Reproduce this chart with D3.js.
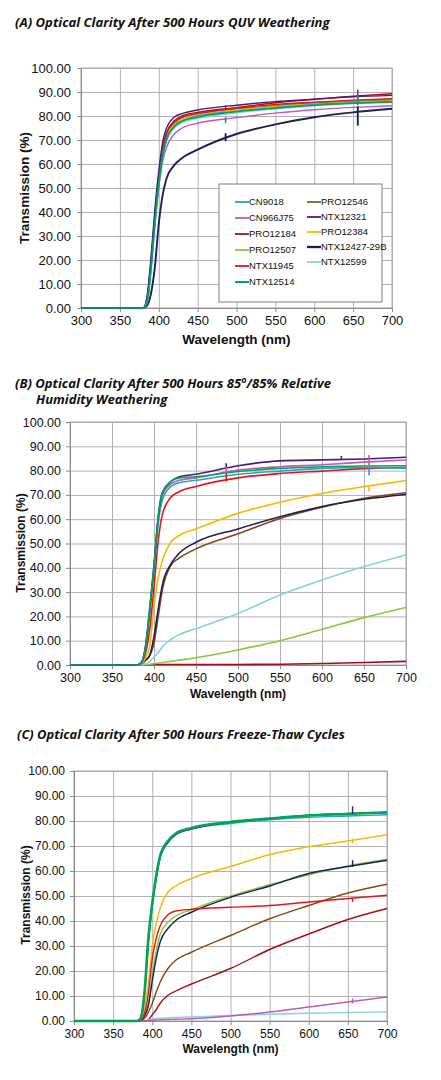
<!DOCTYPE html>
<meta charset="utf-8">
<style>
body { margin: 0; background: #fff; }
.grid line { stroke: #b0b0b0; stroke-width: 1; }
.grid path { display: none; }
.axis path, .axis line { stroke: #8c8c8c; }
.axis text { font-family: "Liberation Sans", Arial, sans-serif; fill: #111; }
.title { font-family: "Open Sans", sans-serif; font-weight: bold; font-style: italic; fill: #111; }
.atitle { font-family: "Liberation Sans", Arial, sans-serif; font-weight: bold; fill: #111; }
.legend text { font-family: "Liberation Sans Narrow", "Arial Narrow", "Liberation Sans", sans-serif; font-size: 9.5px; fill: #111; }
</style>
<svg width="441" height="1080"></svg>
<script src="https://d3js.org/d3.v7.min.js"></script>
<script>

var wavelengths = [300, 380, 385, 390, 395, 400, 405, 410, 420, 430, 450, 500, 550, 600, 650, 700];
var xTicks = [300, 350, 400, 450, 500, 550, 600, 650, 700];
var yTicks = [0, 10, 20, 30, 40, 50, 60, 70, 80, 90, 100];

var seriesNames = ["CN9018", "CN966J75", "PRO12184", "PRO12507", "NTX11945", "NTX12514",
                   "PRO12546", "NTX12321", "PRO12384", "NTX12427-29B", "NTX12599"];
var seriesColors = ["#1fa3d9", "#c05ab5", "#a50f15", "#8cc63e", "#e8141c", "#00a651",
                    "#6e6a2e", "#4b1b7e", "#f7b900", "#1b1f5c", "#8ccfe0"];
var legendCol1 = ["CN9018", "CN966J75", "PRO12184", "PRO12507", "NTX11945", "NTX12514"];
var legendCol2 = ["PRO12546", "NTX12321", "PRO12384", "NTX12427-29B", "NTX12599"];
var drawOrder = ["PRO12184", "PRO12507", "NTX12599", "CN966J75", "PRO12546", "NTX12427-29B",
                 "PRO12384", "NTX11945", "CN9018", "NTX12321", "NTX12514"];

// (A) QUV, one row per series in seriesNames order
var quvValues = [
  [0, 0, 2, 15, 34, 51, 63, 70, 76, 78, 80, 82, 83.5, 84.8, 85.5, 86],
  [0, 0, 3, 17, 35, 50, 61, 67, 72.5, 75, 77, 79.3, 81.2, 82.6, 83.6, 84.3],
  [0, 0, 4, 19, 39, 55, 67, 73, 78, 80, 81.5, 83.5, 85.5, 87, 88.3, 89.3],
  [0, 0, 3, 18, 37, 53, 65, 71.5, 76.5, 78.8, 80.5, 82.8, 84.3, 85.6, 86.4, 87],
  [0, 0, 4, 19, 38, 54, 66, 72.5, 77.5, 79.5, 81, 83.2, 84.8, 85.8, 86.6, 87.2],
  [0, 0, 3, 17, 36, 52, 64, 70.5, 75.5, 77.8, 79.5, 81.8, 83.3, 84.5, 85.3, 85.9],
  [0, 0, 3, 18, 37, 53, 65, 71.5, 77, 79, 80.8, 82.8, 84.2, 85.3, 86, 86.5],
  [0, 0, 5, 21, 41, 57, 69, 75, 79.5, 81, 82.5, 84.5, 86, 87, 88, 88.6],
  [0, 0, 3, 18, 37, 53, 65, 71.5, 76.5, 78.8, 80.5, 82.6, 84, 85, 85.8, 86.3],
  [0, 0, 1, 6, 17, 35, 47, 54, 59.5, 62.5, 66, 72.5, 76.5, 79.5, 81.5, 83],
  [0, 0, 2, 16, 35, 51, 63, 69.5, 75, 77.3, 79, 81.3, 83, 84.3, 85.2, 85.7]
];

// (B) 85°/85% RH
var humidityValues = [
  [0, 0, 1, 7, 22, 39, 58, 68, 73.5, 75, 76, 78.5, 79.8, 80.9, 81.3, 81],
  [0, 0, 1, 7, 22, 40, 60, 70, 74.5, 76, 77, 80.2, 81.6, 82.4, 83.5, 84.4],
  [0, 0, 0, 0.1, 0.1, 0.2, 0.2, 0.2, 0.2, 0.2, 0.2, 0.2, 0.3, 0.6, 1, 1.5],
  [0, 0, 0, 0.1, 0.2, 0.5, 0.8, 1, 1.5, 2, 3, 6.2, 10, 14.7, 19.5, 23.7],
  [0, 0, 1, 5, 15, 32, 51, 62, 69, 71.3, 73.5, 77, 78.8, 79.8, 80.8, 81.3],
  [0, 0, 1, 8, 24, 41, 61, 71, 75.5, 77, 77.5, 79.6, 80.9, 81.6, 81.9, 82],
  [0, 0, 0.5, 2, 4, 9, 20, 31, 41, 44, 47.8, 54, 60.3, 64.9, 68.6, 70.9],
  [0, 0, 1, 8, 23, 41, 61, 71, 75.5, 77.5, 78.5, 82, 84, 84.4, 84.8, 85.5],
  [0, 0, 0.5, 3, 8, 24, 36, 43, 50.5, 53.3, 56, 62.4, 67, 70.6, 73.4, 75.9],
  [0, 0, 0.5, 2, 4, 11.7, 23, 33, 41.5, 46, 50.5, 56, 61, 65.2, 68.2, 70.2],
  [0, 0, 0.2, 0.5, 1.5, 3.3, 5, 7.5, 10.5, 12.5, 15, 21.2, 28.8, 35, 40.5, 45.3]
];

// (C) freeze-thaw
var freezeValues = [
  [0, 0, 0.5, 10, 31, 46, 57, 65, 71.3, 74.5, 76.8, 79, 80.5, 81.5, 82, 82.5],
  [0, 0, 0, 0.1, 0.2, 0.3, 0.4, 0.5, 0.6, 0.7, 0.9, 2, 3.6, 5.6, 7.6, 9.6],
  [0, 0, 0, 0, 0.5, 2.5, 4.5, 7, 10.3, 12, 14.8, 21, 28.6, 34.8, 40.6, 45],
  [0, 0, 0.3, 2, 7, 18, 28, 34.5, 39.5, 42, 44.5, 50, 54.5, 58.5, 62, 64.7],
  [0, 0, 0.3, 3, 11, 25, 33, 38, 42.5, 44, 44.7, 45.5, 46.2, 47.6, 49, 50.3],
  [0, 0, 1, 11, 33, 47, 58, 66, 72, 75, 77.2, 79.6, 81, 82.2, 82.8, 83.5],
  [0, 0, 0.2, 1, 3.5, 7, 11.5, 15.5, 21, 24.3, 27.5, 34.2, 40.9, 46.2, 51.2, 54.7],
  [0, 0, 1, 11, 32, 46.5, 57.5, 65.5, 71.5, 74.5, 76.8, 79.5, 81, 82.3, 83, 83.3],
  [0, 0, 0.5, 5, 15, 30, 39, 45, 51.5, 54, 57, 61.8, 66.5, 69.7, 72, 74.5],
  [0, 0, 0.3, 2, 6, 16, 25, 31.5, 37, 40.2, 43.5, 49.5, 54, 59, 61.8, 64.3],
  [0, 0, 0, 0.2, 0.4, 0.8, 1, 1.1, 1.3, 1.4, 1.6, 2.2, 2.7, 3.1, 3.4, 3.6]
];

// lamp-line spikes: [series, wavelength, from, to]
var quvSpikes = [["NTX12427-29B", 486, 72.8, 69.5], ["NTX12514", 486, 79.5, 77], ["PRO12184", 486, 82.5, 84.5],
                 ["NTX12427-29B", 656, 84, 76], ["PRO12184", 656, 86.5, 91], ["NTX12514", 656, 88.5, 84.5]];
var humiditySpikes = [["NTX11945", 486, 75.5, 79], ["NTX12321", 486, 80.5, 83], ["CN966J75", 486, 79, 81.5],
                      ["NTX12321", 623, 84.4, 86], ["CN966J75", 656, 82.3, 86.4], ["CN9018", 656, 81, 78],
                      ["PRO12384", 656, 73.4, 71.3]];
var freezeSpikes = [["NTX12321", 656, 82.8, 85.9], ["NTX12427-29B", 656, 61.6, 64.3], ["PRO12384", 656, 73, 71],
                    ["NTX11945", 656, 49.3, 47.6], ["CN966J75", 656, 9, 7]];

var svg = d3.select("svg");
var fmt = d3.format(".2f");

function fitText(sel, width) {
  var w = sel.node().getComputedTextLength();
  var fs = parseFloat(sel.style("font-size"));
  sel.style("font-size", (fs * width / w) + "px");
}

function drawPanel(p) {
  var x = d3.scaleLinear().domain([300, 700]).range([p.left, p.right]);
  var y = d3.scaleLinear().domain([0, 100]).range([p.bottom, p.top]);
  var w = p.right - p.left, h = p.bottom - p.top;

  svg.append("g").attr("class", "grid")
      .attr("transform", "translate(0," + p.bottom + ")")
      .call(d3.axisBottom(x).tickValues(xTicks).tickSize(-h).tickFormat(""));
  svg.append("g").attr("class", "grid")
      .attr("transform", "translate(" + p.left + ",0)")
      .call(d3.axisLeft(y).tickValues(yTicks).tickSize(-w).tickFormat(""));

  svg.append("rect")
      .attr("x", p.left).attr("y", p.top).attr("width", w).attr("height", h)
      .attr("fill", "none").attr("stroke", "#a8a8a8");

  var xa = svg.append("g").attr("class", "axis")
      .attr("transform", "translate(0," + p.bottom + ")")
      .call(d3.axisBottom(x).tickValues(xTicks).tickSize(4).tickPadding(4));
  xa.selectAll("text").style("font-size", p.tickFont + "px");
  var ya = svg.append("g").attr("class", "axis")
      .attr("transform", "translate(" + p.left + ",0)")
      .call(d3.axisLeft(y).tickValues(yTicks).tickFormat(fmt).tickSize(4).tickPadding(p.yPad));
  ya.selectAll("text").style("font-size", p.tickFont + "px");

  var line = d3.line()
      .x(function(d, i) { return x(wavelengths[i]); })
      .y(function(d) { return y(d); })
      .curve(d3.curveMonotoneX);

  function color(name) {
    if (p.colorOverride && p.colorOverride[name]) return p.colorOverride[name];
    return seriesColors[seriesNames.indexOf(name)];
  }
  function width(name) {
    return (p.widths && p.widths[name]) || p.lineWidth;
  }

  var g = svg.append("g");
  drawOrder.forEach(function(name) {
    g.append("path")
        .datum(p.values[seriesNames.indexOf(name)])
        .attr("d", line)
        .attr("fill", "none")
        .attr("stroke", color(name))
        .attr("stroke-width", width(name))
        .attr("stroke-linejoin", "round");
  });
  g.selectAll(".spike")
    .data(p.spikes)
    .enter().append("line")
      .attr("x1", function(d) { return x(d[1]); })
      .attr("x2", function(d) { return x(d[1]); })
      .attr("y1", function(d) { return y(d[2]); })
      .attr("y2", function(d) { return y(d[3]); })
      .attr("stroke", function(d) { return color(d[0]); })
      .attr("stroke-width", function(d) { return width(d[0]); });

  svg.append("text").attr("class", "atitle")
      .attr("x", (p.left + p.right) / 2).attr("y", p.xTitleY)
      .attr("text-anchor", "middle")
      .style("font-size", p.titleFont + "px")
      .text("Wavelength (nm)");
  svg.append("text").attr("class", "atitle")
      .attr("transform", "translate(" + p.yTitleX + "," + p.yTitleY + ") rotate(-90)")
      .attr("text-anchor", "middle")
      .style("font-size", p.titleFont + "px")
      .text("Transmission (%)");

  return { x: x, y: y, color: color, width: width };
}

// (A)
var tA = svg.append("text").attr("class", "title").attr("x", 15).attr("y", 27)
    .style("font-size", "14px").text("(A) Optical Clarity After 500 Hours QUV Weathering");
fitText(tA, 315);
var pA = drawPanel({
  left: 81, right: 392, top: 68, bottom: 308,
  values: quvValues, spikes: quvSpikes,
  tickFont: 13, yPad: 6, titleFont: 13.5,
  xTitleY: 344, yTitleX: 29, yTitleY: 188,
  lineWidth: 1.4, widths: { "NTX12427-29B": 1.9, "NTX12514": 1.6 }
});

var leg = svg.append("g").attr("class", "legend");
leg.append("rect").attr("x", 219).attr("y", 184).attr("width", 163).attr("height", 118)
    .attr("fill", "#fff").attr("stroke", "#7f7f7f");
function legendColumn(names, x0, y0, step) {
  var rows = leg.selectAll(null).data(names).enter().append("g")
      .attr("transform", function(d, i) { return "translate(" + x0 + "," + (y0 + i * step) + ")"; });
  rows.append("line").attr("x1", 0).attr("x2", 14)
      .attr("stroke", function(d) { return pA.color(d); })
      .attr("stroke-width", function(d) { return pA.width(d) + 0.4; });
  rows.append("text").attr("x", 14).attr("dy", "0.35em").text(function(d) { return d; });
}
legendColumn(legendCol1, 235, 202, 16);
legendColumn(legendCol2, 307, 202, 15);

// (B)
var tB = svg.append("text").attr("class", "title").attr("x", 15).attr("y", 388).style("font-size", "14px");
tB.append("tspan").text("(B) Optical Clarity After 500 Hours 85");
tB.append("tspan").attr("dy", "-5").style("font-size", "9px").text("o");
tB.append("tspan").attr("dy", "5").text("/85% Relative");
fitText(tB, 316);
svg.append("text").attr("class", "title").attr("x", 36).attr("y", 404)
    .style("font-size", tB.style("font-size")).text("Humidity Weathering");
drawPanel({
  left: 70, right: 406, top: 422, bottom: 665,
  values: humidityValues, spikes: humiditySpikes,
  tickFont: 12.5, yPad: 5, titleFont: 12,
  xTitleY: 698, yTitleX: 25, yTitleY: 543,
  lineWidth: 1.6, colorOverride: { "PRO12546": "#8b4513" }
});

// (C)
var tC = svg.append("text").attr("class", "title").attr("x", 17).attr("y", 739)
    .style("font-size", "14px").text("(C) Optical Clarity After 500 Hours Freeze-Thaw Cycles");
fitText(tC, 328);
drawPanel({
  left: 74, right: 387, top: 771, bottom: 1021,
  values: freezeValues, spikes: freezeSpikes,
  tickFont: 12, yPad: 5, titleFont: 12,
  xTitleY: 1053, yTitleX: 30, yTitleY: 895,
  lineWidth: 1.4, widths: { "NTX12514": 2.6 },
  colorOverride: { "PRO12546": "#8b4513" }
});

</script>
